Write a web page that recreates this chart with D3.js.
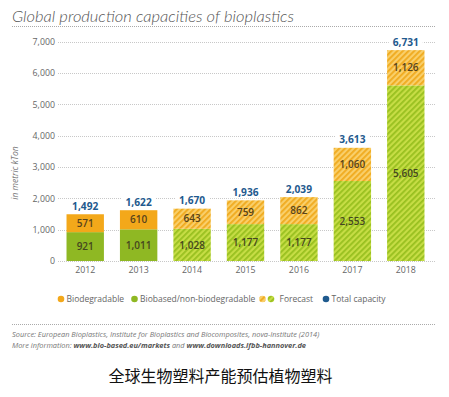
<!DOCTYPE html>
<html><head><meta charset="utf-8">
<script src="https://cdn.jsdelivr.net/npm/d3@7"></script>
<style>
html,body{margin:0;padding:0;background:#fff;}
svg{display:block;}
</style></head>
<body>
<script>
const years = ["2012","2013","2014","2015","2016","2017","2018"];
const biodegradable = [571,610,643,759,862,1060,1126];
const biobased = [921,1011,1028,1177,1177,2553,5605];
const totals = [1492,1622,1670,1936,2039,3613,6731];
const isForecast = [false,false,true,true,true,true,true];
const yTicks = [0,1000,2000,3000,4000,5000,6000,7000];
const legendItems = ["Biodegradable","Biobased/non-biodegradable","Forecast","Total capacity"];

const W=449,H=397;
const svg=d3.select("body").append("svg").attr("width",W).attr("height",H);
const defs=svg.append("defs");
function hatch(id,bg,fg){
  const p=defs.append("pattern").attr("id",id).attr("patternUnits","userSpaceOnUse")
    .attr("width",4).attr("height",4).attr("patternTransform","rotate(-45)");
  p.append("rect").attr("width",4).attr("height",4).attr("fill",bg);
  p.append("rect").attr("width",4).attr("height",1.8).attr("fill",fg);
}
hatch("hOrange","#f9cf6a","#f0aa1e");
hatch("hGreen","#c6dd45","#98c01f");

const ORANGE="#f3a81a", GREEN="#8fb823", BLUE="#1f5a8e";
const sans="'Open Sans', Lato, sans-serif";

// title
svg.append("text").attr("x",12).attr("y",22).text("Global production capacities of bioplastics")
  .attr("font-family","Lato, sans-serif").attr("font-style","italic").attr("font-weight",300)
  .attr("font-size",16.5).attr("fill","#555");
svg.append("line").attr("x1",12).attr("x2",435).attr("y1",26.5).attr("y2",26.5)
  .attr("stroke","#aaa").attr("stroke-dasharray","1,1").attr("stroke-width",1);

const x=d3.scaleBand().domain(years).range([58.5,432.5]).paddingInner(0.3).paddingOuter(0.15);
const y=d3.scaleLinear().domain([0,7000]).range([261,41.7]);

// grid
svg.append("g").selectAll("line.grid").data(yTicks).join("line").attr("class","grid")
  .attr("x1",58).attr("x2",435).attr("y1",d=>Math.round(y(d))+0.5).attr("y2",d=>Math.round(y(d))+0.5)
  .attr("stroke","#c8c8c8").attr("stroke-dasharray","1,1");
const yAxis=d3.axisLeft(y).tickValues(yTicks).tickFormat(d3.format(",")).tickSize(0).tickPadding(0);
const ya=svg.append("g").attr("transform","translate(55,0)").call(yAxis);
ya.select(".domain").remove();
ya.selectAll("text").attr("font-family",sans).attr("font-size",8.8).attr("fill","#666");

svg.append("text").attr("transform","translate(18,173) rotate(-90)").attr("text-anchor","middle")
  .text("in metric kTon").attr("font-family",sans).attr("font-style","italic").attr("font-size",8.5)
  .attr("fill","#777");

const xAxis=d3.axisBottom(x).tickSize(0).tickPadding(0);
const xa=svg.append("g").attr("transform","translate(0,267)").call(xAxis);
xa.select(".domain").remove();
xa.selectAll("text").attr("font-family",sans).attr("font-size",8.8).attr("fill","#666");

const data=years.map((yr,i)=>({yr,bd:biodegradable[i],bb:biobased[i],tot:totals[i],f:isForecast[i]}));
svg.selectAll("rect.bb").data(data).join("rect").attr("class","bb")
  .attr("x",d=>x(d.yr)).attr("width",x.bandwidth())
  .attr("y",d=>y(d.bb)).attr("height",d=>y(0)-y(d.bb))
  .attr("fill",d=>d.f?"url(#hGreen)":GREEN);
svg.selectAll("rect.bd").data(data).join("rect").attr("class","bd")
  .attr("x",d=>x(d.yr)).attr("width",x.bandwidth())
  .attr("y",d=>y(d.bb+d.bd)).attr("height",d=>y(d.bb)-y(d.bb+d.bd))
  .attr("fill",d=>d.f?"url(#hOrange)":ORANGE);

const fmt=d3.format(",");
svg.selectAll("text.lbb").data(data).join("text").attr("class","lbb")
  .attr("x",d=>x(d.yr)+x.bandwidth()/2).attr("y",d=>(y(0)+y(d.bb))/2+3.7)
  .attr("text-anchor","middle").text(d=>fmt(d.bb))
  .attr("font-family",sans).attr("font-weight",600).attr("font-size",10).attr("fill","#45461f");
svg.selectAll("text.lbd").data(data).join("text").attr("class","lbd")
  .attr("x",d=>x(d.yr)+x.bandwidth()/2).attr("y",d=>(y(d.bb)+y(d.bb+d.bd))/2+3.7)
  .attr("text-anchor","middle").text(d=>fmt(d.bd))
  .attr("font-family",sans).attr("font-weight",600).attr("font-size",10).attr("fill","#57431c");

const tg=svg.selectAll("g.tot").data(data).join("g").attr("class","tot")
  .attr("transform",d=>`translate(${x(d.yr)+x.bandwidth()/2},${y(d.bb+d.bd)-8})`);
tg.append("rect").attr("x",-17).attr("y",-6).attr("width",34).attr("height",12).attr("fill","#fff");
tg.append("text").attr("text-anchor","middle").attr("y",3.6).text(d=>fmt(d.tot))
  .attr("font-family",sans).attr("font-weight",700).attr("font-size",10.2).attr("fill",BLUE);

// legend
const lg=svg.append("g").attr("font-family",sans).attr("font-size",8.5).attr("fill","#666");
const ly=299;
lg.append("circle").attr("cx",61).attr("cy",ly).attr("r",3.3).attr("fill",ORANGE);
lg.append("text").attr("x",66.5).attr("y",ly+3).text(legendItems[0]);
lg.append("circle").attr("cx",134.5).attr("cy",ly).attr("r",3.3).attr("fill",GREEN);
lg.append("text").attr("x",140).attr("y",ly+3).text(legendItems[1]);
lg.append("circle").attr("cx",262.5).attr("cy",ly).attr("r",3.3).attr("fill","url(#hOrange)");
lg.append("circle").attr("cx",271).attr("cy",ly).attr("r",3.3).attr("fill","url(#hGreen)");
lg.append("text").attr("x",279.5).attr("y",ly+3).text(legendItems[2]);
lg.append("circle").attr("cx",326).attr("cy",ly).attr("r",3.3).attr("fill",BLUE);
lg.append("text").attr("x",331.5).attr("y",ly+3).text(legendItems[3]);

svg.append("line").attr("x1",12).attr("x2",435).attr("y1",324.5).attr("y2",324.5)
  .attr("stroke","#aaa").attr("stroke-dasharray","1,1");

const src=svg.append("g").attr("font-family",sans).attr("font-style","italic").attr("font-size",7.4).attr("fill","#777");
src.append("text").attr("x",12).attr("y",337)
  .text("Source: European Bioplastics, Institute for Bioplastics and Biocomposites, nova-Institute (2014)");
const t2=src.append("text").attr("x",12).attr("y",348);
t2.append("tspan").text("More information: ");
t2.append("tspan").attr("font-weight",700).attr("fill","#555").text("www.bio-based.eu/markets");
t2.append("tspan").text(" and ");
t2.append("tspan").attr("font-weight",700).attr("fill","#555").text("www.downloads.ifbb-hannover.de");

svg.append("text").attr("x",220.5).attr("y",382).attr("text-anchor","middle")
  .text("全球生物塑料产能预估植物塑料").attr("font-family","'Noto Sans CJK SC', sans-serif")
  .attr("font-size",16).attr("fill","#111");
</script>
</body></html>
